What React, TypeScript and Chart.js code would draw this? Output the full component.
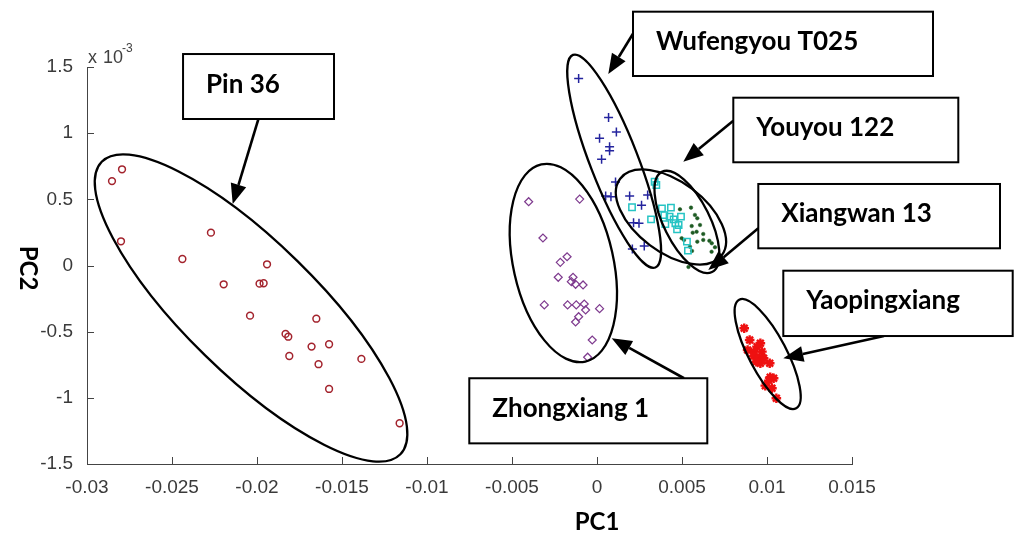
import React, { useEffect, useRef } from 'react';
import { Chart, registerables } from 'chart.js';

Chart.register(...registerables);

// ---- Tick labels ----
const xTickLabels = ['-0.03', '-0.025', '-0.02', '-0.015', '-0.01', '-0.005', '0', '0.005', '0.01', '0.015'];
const yTickLabels = ['-1.5', '-1', '-0.5', '0', '0.5', '1', '1.5'];

// ---- Series (PC1, PC2 in units of 1e-3) ----
const pin36X = [-0.02853, -0.02794, -0.0280, -0.02271, -0.02439, -0.01941, -0.02196, -0.01985, -0.01961, -0.02041, -0.01651, -0.01832, -0.01816, -0.01679, -0.01576, -0.0181, -0.01386, -0.01638, -0.01576, -0.01161];
const pin36Y = [0.638, 0.727, 0.183, 0.248, 0.049, 0.009, -0.142, -0.137, -0.134, -0.379, -0.402, -0.517, -0.538, -0.613, -0.595, -0.684, -0.706, -0.746, -0.933, -1.192];

const zhongX = [-0.00402, -0.00102, -0.00318, -0.00176, -0.00216, -0.00228, -0.00141, -0.00151, -0.00126, -0.00082, -0.0031, -0.00173, -0.00122, -0.00075, -0.00067, 0.00015, -0.00108, -0.00126, -0.00028, -0.00055];
const zhongY = [0.482, 0.502, 0.208, 0.066, 0.024, -0.089, -0.089, -0.122, -0.142, -0.147, -0.298, -0.298, -0.298, -0.291, -0.336, -0.326, -0.387, -0.427, -0.563, -0.693];

const wufengX = [-0.00108, 0.00068, 0.00114, 0.00015, 0.00074, 0.00074, 0.00027, 0.00109, 0.00051, 0.00082, 0.00192, 0.00298, 0.00262, 0.00215, 0.00247, 0.00208, 0.00278];
const wufengY = [1.414, 1.119, 1.008, 0.961, 0.897, 0.867, 0.802, 0.631, 0.525, 0.52, 0.525, 0.532, 0.455, 0.323, 0.319, 0.125, 0.147];

const youyouX = [0.00339, 0.00349, 0.00206, 0.00382, 0.00435, 0.00318, 0.00396, 0.00427, 0.00451, 0.00494, 0.00402, 0.00461, 0.0048, 0.00471, 0.00529, 0.00535];
const youyouY = [0.633, 0.608, 0.44, 0.432, 0.437, 0.349, 0.381, 0.369, 0.349, 0.369, 0.313, 0.319, 0.306, 0.273, 0.18, 0.112];

const xiangX = [0.00488, 0.00553, 0.00576, 0.0059, 0.00557, 0.00606, 0.00586, 0.00563, 0.00625, 0.00498, 0.00512, 0.0059, 0.00625, 0.00661, 0.00675, 0.00547, 0.00694, 0.00559, 0.00674, 0.00538];
const xiangY = [0.425, 0.437, 0.382, 0.357, 0.298, 0.306, 0.255, 0.248, 0.238, 0.206, 0.193, 0.18, 0.193, 0.187, 0.168, 0.142, 0.138, 0.11, 0.104, -0.011];

const yaoX = [0.00866, 0.00898, 0.00961, 0.00941, 0.00886, 0.00925, 0.0097, 0.00921, 0.00951, 0.0097, 0.00961, 0.01016, 0.01019, 0.01039, 0.0101, 0.0099, 0.01029, 0.01055, 0.0098, 0.00937];
const yaoY = [-0.474, -0.563, -0.588, -0.613, -0.638, -0.651, -0.651, -0.684, -0.701, -0.719, -0.739, -0.739, -0.845, -0.852, -0.87, -0.908, -0.928, -1.003, -0.701, -0.727];

// ---- Annotations (anchored in data coordinates) ----
// group ellipses: center (data), semi-axes (px), angle (deg)
const ellipses = [
  { cx: -0.02035, cy: -0.321, a: 209, b: 66, angle: 44.4 },
  { cx: -0.00198, cy: 0.019, a: 101, b: 50, angle: 77.4 },
  { cx: 0.00101, cy: 0.788, a: 114, b: 24, angle: 68.8 },
  { cx: 0.00435, cy: 0.3665, a: 63.6, b: 35.2, angle: 37 },
  { cx: 0.00529, cy: 0.329, a: 56, b: 23, angle: 63.4 },
  { cx: 0.01004, cy: -0.669, a: 61.3, b: 18.8, angle: 62.3 },
];

const labelTexts = ['Pin 36', 'Wufengyou T025', 'Youyou 122', 'Xiangwan 13', 'Yaopingxiang', 'Zhongxiang 1'];
const labelBoxes = [
  { x1: -0.02435, y1: 1.598, x2: -0.01547, y2: 1.107 },
  { x1: 0.002118, y1: 1.918, x2: 0.019765, y2: 1.432 },
  { x1: 0.008018, y1: 1.268, x2: 0.021253, y2: 0.78 },
  { x1: 0.009488, y1: 0.616, x2: 0.023706, y2: 0.13 },
  { x1: 0.010959, y1: -0.0393, x2: 0.024453, y2: -0.533 },
  { x1: -0.007512, y1: -0.852, x2: 0.006488, y2: -1.344 },
];
const arrows = [
  { fx: -0.019924, fy: 1.105, tx: -0.021429, ty: 0.465 },
  { fx: 0.002135, fy: 1.755, tx: 0.000665, ty: 1.447 },
  { fx: 0.008018, fy: 1.094, tx: 0.005076, ty: 0.784 },
  { fx: 0.009488, fy: 0.281, tx: 0.006547, ty: -0.034 },
  { fx: 0.016882, fy: -0.533, tx: 0.010959, ty: -0.701 },
  { fx: 0.005118, fy: -0.852, tx: 0.000865, ty: -0.55 },
];

const tickFont = "'Liberation Sans Narrow', 'Liberation Sans', Arial, sans-serif";
const boldFont = "Lato, 'Open Sans', sans-serif";

const mk = (xs: number[], ys: number[]) => xs.map((x, i) => ({ x, y: ys[i] }));

const decorPlugin = {
  id: 'decor',
  afterDraw(chart: any) {
    const { ctx, chartArea } = chart;
    const xs = chart.scales.x;
    const ys = chart.scales.y;
    const px = (v: number) => xs.getPixelForValue(v);
    const py = (v: number) => ys.getPixelForValue(v);
    ctx.save();

    // inward tick marks
    ctx.strokeStyle = '#444';
    ctx.lineWidth = 1;
    ctx.beginPath();
    xs.ticks.forEach((t: any) => {
      const x = Math.round(px(t.value)) + 0.5;
      ctx.moveTo(x, chartArea.bottom);
      ctx.lineTo(x, chartArea.bottom - 7);
    });
    ys.ticks.forEach((t: any) => {
      const y = Math.round(py(t.value)) + 0.5;
      ctx.moveTo(chartArea.left, y);
      ctx.lineTo(chartArea.left + 7, y);
    });
    ctx.stroke();

    // exponent label
    ctx.fillStyle = '#404040';
    ctx.textBaseline = 'alphabetic';
    ctx.textAlign = 'left';
    ctx.font = `18px ${tickFont}`;
    ctx.fillText('x', chartArea.left + 1, chartArea.top - 4);
    ctx.fillText('10', chartArea.left + 16, chartArea.top - 4);
    ctx.font = `12px ${tickFont}`;
    ctx.fillText('-3', chartArea.left + 35, chartArea.top - 15);

    // ellipses
    ctx.strokeStyle = '#000';
    ctx.lineWidth = 2.3;
    ellipses.forEach((e) => {
      ctx.beginPath();
      ctx.ellipse(px(e.cx), py(e.cy), e.a, e.b, (e.angle * Math.PI) / 180, 0, Math.PI * 2);
      ctx.stroke();
    });

    // arrows
    arrows.forEach((a) => {
      const x0 = px(a.fx), y0 = py(a.fy), x1 = px(a.tx), y1 = py(a.ty);
      const ang = Math.atan2(y1 - y0, x1 - x0);
      const hl = 20, hw = 8;
      const bx = x1 - hl * Math.cos(ang), by = y1 - hl * Math.sin(ang);
      ctx.strokeStyle = '#000';
      ctx.lineWidth = 2.6;
      ctx.beginPath();
      ctx.moveTo(x0, y0);
      ctx.lineTo(bx, by);
      ctx.stroke();
      ctx.fillStyle = '#000';
      ctx.beginPath();
      ctx.moveTo(x1, y1);
      ctx.lineTo(bx + hw * Math.sin(ang), by - hw * Math.cos(ang));
      ctx.lineTo(bx - hw * Math.sin(ang), by + hw * Math.cos(ang));
      ctx.closePath();
      ctx.fill();
    });

    // label boxes
    labelBoxes.forEach((b, i) => {
      const x1 = px(b.x1), y1 = py(b.y1), x2 = px(b.x2), y2 = py(b.y2);
      ctx.fillStyle = '#fff';
      ctx.fillRect(x1, y1, x2 - x1, y2 - y1);
      ctx.strokeStyle = '#000';
      ctx.lineWidth = 2;
      ctx.strokeRect(x1, y1, x2 - x1, y2 - y1);
      ctx.fillStyle = '#000';
      ctx.font = `bold 26px ${boldFont}`;
      ctx.textAlign = 'left';
      ctx.textBaseline = 'alphabetic';
      ctx.fillText(labelTexts[i], x1 + 23, y1 + 38.5);
    });

    // axis titles
    ctx.fillStyle = '#000';
    ctx.font = `bold 24px ${boldFont}`;
    ctx.textAlign = 'center';
    ctx.textBaseline = 'middle';
    ctx.fillText('PC1', px(0), chartArea.bottom + 58);
    ctx.save();
    ctx.translate(28, 268);
    ctx.rotate(Math.PI / 2);
    ctx.fillText('PC2', 0, 0);
    ctx.restore();

    ctx.restore();
  },
};

export default function App() {
  const ref = useRef<HTMLCanvasElement>(null);
  useEffect(() => {
    const canvas = ref.current!;
    const chart = new Chart(canvas, {
      type: 'scatter',
      data: {
        datasets: [
          { label: 'Pin 36', data: mk(pin36X, pin36Y), pointStyle: 'circle', pointRadius: 3.4, borderColor: '#a3232d', backgroundColor: 'rgba(0,0,0,0)', borderWidth: 1.5 },
          { label: 'Zhongxiang 1', data: mk(zhongX, zhongY), pointStyle: 'rectRot', pointRadius: 4, borderColor: '#7e3a8e', backgroundColor: 'rgba(0,0,0,0)', borderWidth: 1.2 },
          { label: 'Wufengyou T025', data: mk(wufengX, wufengY), pointStyle: 'cross', pointRadius: 4.5, borderColor: '#24249e', backgroundColor: 'rgba(0,0,0,0)', borderWidth: 1.5 },
          { label: 'Youyou 122', data: mk(youyouX, youyouY), pointStyle: 'rect', pointRadius: 4.5, borderColor: '#26c4c4', backgroundColor: 'rgba(0,0,0,0)', borderWidth: 1.5 },
          { label: 'Xiangwan 13', data: mk(xiangX, xiangY), pointStyle: 'circle', pointRadius: 1.8, borderColor: '#1d5a22', backgroundColor: '#1d5a22', borderWidth: 0.5 },
          { label: 'Yaopingxiang', data: mk(yaoX, yaoY), pointStyle: 'star', pointRadius: 4.8, borderColor: '#ee1111', backgroundColor: '#ee1111', borderWidth: 2.4 },
        ],
      },
      options: {
        animation: false,
        responsive: false,
        maintainAspectRatio: false,
        layout: { padding: { top: 67, right: 172, left: 0, bottom: 0 } },
        plugins: { legend: { display: false }, tooltip: { enabled: false }, title: { display: false } },
        scales: {
          x: {
            type: 'linear',
            min: Number(xTickLabels[0]),
            max: Number(xTickLabels[xTickLabels.length - 1]),
            afterBuildTicks: (s: any) => { s.ticks = xTickLabels.map((l) => ({ value: Number(l) })); },
            afterFit: (s: any) => { s.height = 86; },
            ticks: {
              autoSkip: false, maxRotation: 0, padding: 4, color: '#3a3a3a',
              font: { family: tickFont, size: 19 },
              callback: (_v: any, i: number) => xTickLabels[i],
            },
            grid: { display: false },
            border: { display: true, color: '#444', width: 1 },
          },
          y: {
            type: 'linear',
            min: Number(yTickLabels[0]),
            max: Number(yTickLabels[yTickLabels.length - 1]),
            afterBuildTicks: (s: any) => { s.ticks = yTickLabels.map((l) => ({ value: Number(l) })); },
            afterFit: (s: any) => { s.width = 87; },
            ticks: {
              autoSkip: false, padding: 6, color: '#3a3a3a',
              font: { family: tickFont, size: 19 },
              callback: (_v: any, i: number) => yTickLabels[i],
            },
            grid: { display: false },
            border: { display: true, color: '#444', width: 1 },
          },
        },
      },
      plugins: [decorPlugin],
    } as any);
    return () => chart.destroy();
  }, []);
  return (
    <div style={{ position: 'absolute', left: 0, top: 0, width: 1024, height: 550, background: '#fff' }}>
      <canvas ref={ref} width={1024} height={550} style={{ display: 'block' }} />
    </div>
  );
}
